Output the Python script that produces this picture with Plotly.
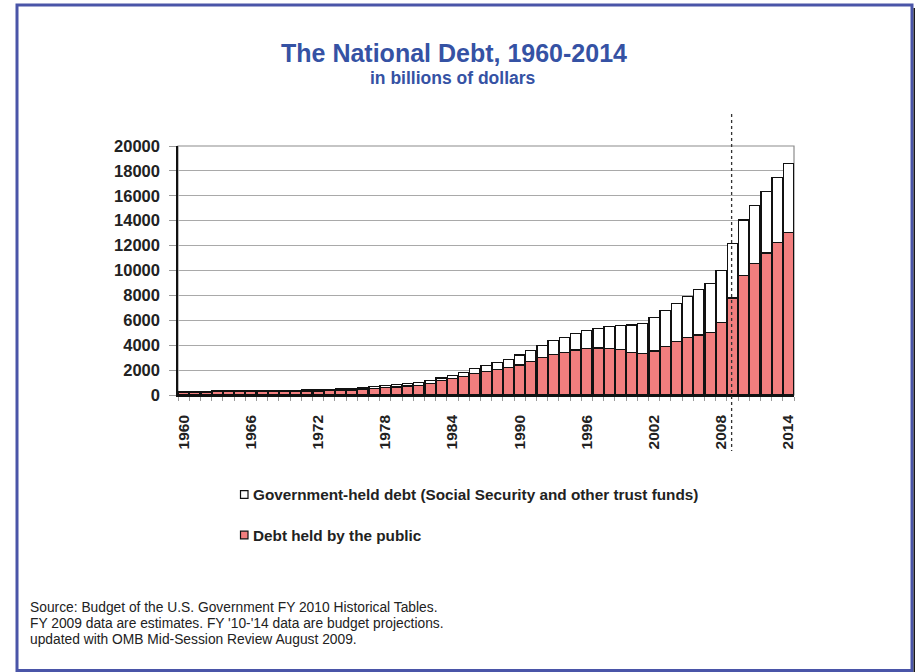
import plotly.graph_objects as go

# Fiscal years shown on the chart
years = list(range(1960, 2015))

# Debt held by the public, billions of dollars
public_debt = [
    236.8, 238.4, 248.0, 254.0, 256.8, 260.8, 263.7, 266.6, 289.5, 278.1,
    283.2, 303.0, 322.4, 340.9, 343.7, 394.7, 477.4, 549.1, 607.1, 640.3,
    711.9, 789.4, 924.6, 1137.3, 1307.0, 1507.3, 1740.6, 1889.8, 2051.6, 2190.7,
    2411.6, 2689.0, 2999.7, 3248.4, 3433.1, 3604.4, 3734.1, 3772.3, 3721.1, 3632.4,
    3409.8, 3319.6, 3540.4, 3913.4, 4295.5, 4592.2, 4829.0, 5035.1, 5803.1,
    7800, 9580, 10550, 11400, 12230, 13070,
]

# Debt held by government accounts (Social Security and other trust funds)
gov_held_debt = [
    53.7, 54.2, 54.9, 56.3, 59.3, 61.5, 64.8, 73.8, 79.1, 87.7,
    97.7, 105.1, 113.6, 125.4, 140.2, 147.2, 151.6, 157.3, 169.5, 189.2,
    197.1, 205.4, 212.7, 234.4, 257.6, 310.1, 379.9, 456.2, 549.5, 677.1,
    794.7, 909.2, 1002.1, 1102.6, 1210.2, 1316.2, 1447.4, 1596.9, 1757.1, 1973.1,
    2218.9, 2450.3, 2658.0, 2846.6, 3059.2, 3313.1, 3622.4, 3915.6, 4183.0,
    4350, 4470, 4680, 4930, 5220, 5510,
]

x_tick_years = [1960, 1966, 1972, 1978, 1984, 1990, 1996, 2002, 2008, 2014]
y_ticks = list(range(0, 20001, 2000))

series_names = [
    "Government-held debt (Social Security and other trust funds)",
    "Debt held by the public",
]

TITLE = "The National Debt, 1960-2014"
SUBTITLE = "in billions of dollars"
SOURCE_LINES = [
    "Source: Budget of the U.S. Government FY 2010 Historical Tables.",
    "FY 2009 data are estimates. FY '10-'14 data are budget projections.",
    "updated with OMB Mid-Session Review August 2009.",
]

# Boundary between actual data and estimates/projections
ESTIMATE_DIVIDER = 2008.93

# ---- page geometry (pixels) ----
W, H = 915, 672
L, R, T, B = 178, 121, 146, 277
PW = W - L - R
PH = H - T - B
X_MIN, X_MAX = years[0] - 0.5, years[-1] + 0.5


def px_x(px):
    return (px - L) / PW


def px_y(py):
    return (H - B - py) / PH


SALMON = "#F27E7E"
BLUE = "#3552A4"
FRAME = "#4A55A8"
TEXT = "#222222"
GRID = "#A9A9A9"
FONT = "Liberation Sans, Arial, sans-serif"

fig = go.Figure()
fig.add_trace(go.Bar(
    x=years, y=public_debt, name=series_names[1],
    marker=dict(color=SALMON, line=dict(color="#111111", width=1.3)),
    width=0.92,
))
fig.add_trace(go.Bar(
    x=years, y=gov_held_debt, name=series_names[0],
    marker=dict(color="white", line=dict(color="#111111", width=1.3)),
    width=0.92,
))

shapes = []
# plot-area frame (top and right edges stay grey; axis lines cover the others)
shapes.append(dict(type="rect", xref="paper", yref="paper", x0=0, x1=1, y0=0, y1=1,
                   line=dict(color="#8C8C8C", width=1.2), layer="below"))
# dotted divider between actuals and estimates
xd = (ESTIMATE_DIVIDER - X_MIN) / (X_MAX - X_MIN)
shapes.append(dict(type="line", xref="paper", yref="paper", x0=xd, x1=xd,
                   y0=px_y(114), y1=px_y(451),
                   line=dict(color="#333333", width=1.3, dash="dot")))
# outer page frame
shapes.append(dict(type="rect", xref="paper", yref="paper",
                   x0=px_x(17), x1=px_x(912), y0=px_y(670.5), y1=px_y(5),
                   line=dict(color=FRAME, width=3)))
shapes.append(dict(type="line", xref="paper", yref="paper",
                   x0=px_x(914.3), x1=px_x(914.3), y0=px_y(672), y1=px_y(8),
                   line=dict(color="#1A1A1A", width=1.5)))

# legend swatches
legend_rows = [(494.5, "white", series_names[0]), (535, SALMON, series_names[1])]
annotations = []
for cy, fill, label in legend_rows:
    shapes.append(dict(type="rect", xref="paper", yref="paper",
                       x0=px_x(240.5), x1=px_x(248), y0=px_y(cy + 3.8), y1=px_y(cy - 3.8),
                       fillcolor=fill, line=dict(color="#111111", width=1.2)))
    annotations.append(dict(text=f"<b>{label}</b>", xref="paper", yref="paper",
                            x=px_x(251), y=px_y(cy), xanchor="left", yanchor="middle",
                            showarrow=False, font=dict(family=FONT, size=15.3, color=TEXT)))

# title and subtitle
annotations.append(dict(text=f"<b>{TITLE}</b>", xref="paper", yref="paper",
                        x=px_x(453.5), y=px_y(53), xanchor="center", yanchor="middle",
                        showarrow=False, font=dict(family=FONT, size=25, color=BLUE)))
annotations.append(dict(text=f"<b>{SUBTITLE}</b>", xref="paper", yref="paper",
                        x=px_x(452.5), y=px_y(78.5), xanchor="center", yanchor="middle",
                        showarrow=False, font=dict(family=FONT, size=17.5, color=BLUE)))

# source notes
for i, line in enumerate(SOURCE_LINES):
    annotations.append(dict(text=line, xref="paper", yref="paper",
                            x=px_x(27.5), y=px_y(607.5 + 16 * i), xanchor="left", yanchor="middle",
                            showarrow=False, font=dict(family=FONT, size=13.8, color=TEXT)))

fig.update_layout(
    width=W, height=H,
    margin=dict(l=L, r=R, t=T, b=B, pad=0),
    barmode="stack",
    bargap=0.1,
    showlegend=False,
    paper_bgcolor="white",
    plot_bgcolor="white",
    shapes=shapes,
    annotations=annotations,
    font=dict(family=FONT, color=TEXT),
)

fig.update_xaxes(
    range=[X_MIN, X_MAX],
    tickmode="array", tickvals=x_tick_years,
    ticktext=[f"<b>{y}</b>" for y in x_tick_years],
    tickangle=-90,
    tickfont=dict(family=FONT, size=15.5, color=TEXT),
    ticks="",
    ticklabelstandoff=12,
    minor=dict(ticks="outside", tick0=X_MIN, dtick=1, ticklen=4,
               tickcolor="#9A9A9A", tickwidth=1, showgrid=False),
    showgrid=False,
    showline=True, linecolor="#111111", linewidth=1.5,
    zeroline=False,
    fixedrange=True,
)

fig.update_yaxes(
    range=[0, 20000],
    tickmode="array", tickvals=y_ticks,
    ticktext=[f"<b>{v}</b>" for v in y_ticks],
    tickfont=dict(family=FONT, size=16.5, color=TEXT),
    ticks="outside", ticklen=7, tickcolor="#9A9A9A", tickwidth=1,
    ticklabelstandoff=6,
    showgrid=True, gridcolor=GRID, gridwidth=1,
    showline=True, linecolor="#111111", linewidth=1.5,
    zeroline=False,
    fixedrange=True,
)

fig.write_html("out.html")
